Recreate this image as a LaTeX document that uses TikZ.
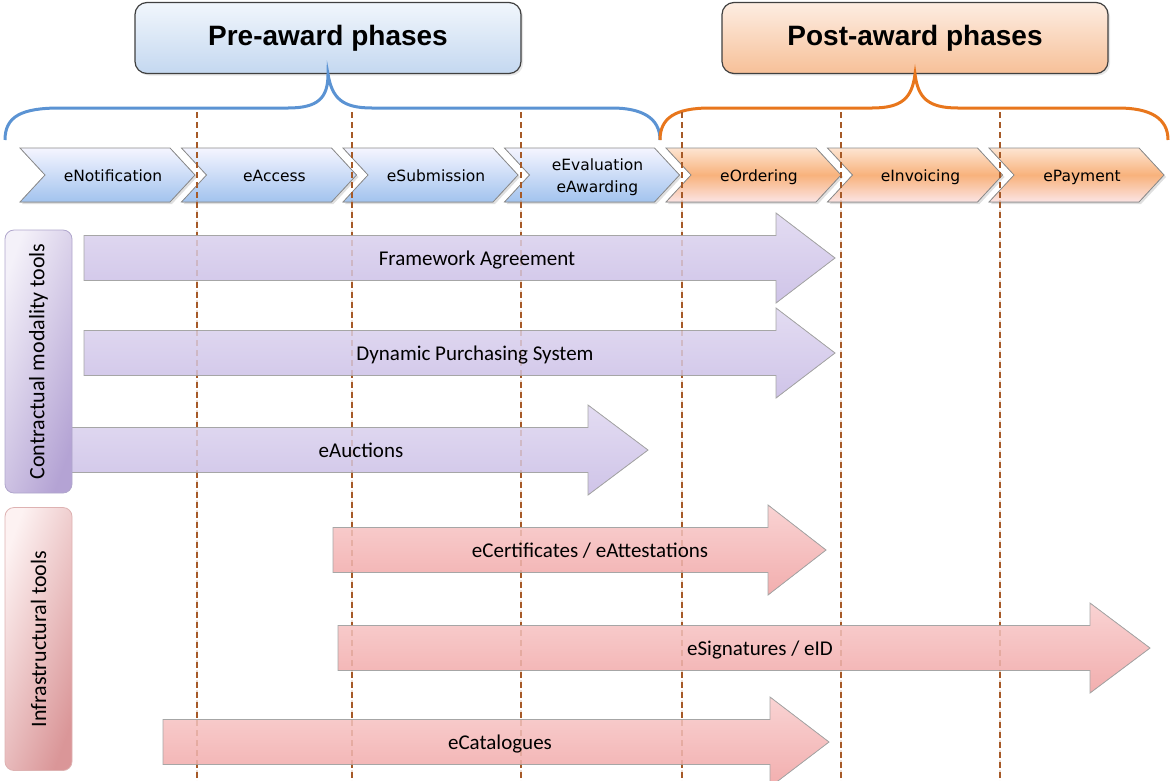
\documentclass[tikz,border=0pt]{standalone}
\usepackage{fontspec}
\setsansfont{Carlito}
\newfontfamily\titlefont{Liberation Sans}
\newfontfamily\phasefont{DejaVu Sans}
\usepackage{tikz}
\usetikzlibrary{shadows}
\definecolor{preBlue}{HTML}{5B93D3}
\definecolor{postOrange}{HTML}{E8761C}
\definecolor{phaseBrown}{HTML}{A65A28}
\definecolor{edgeGray}{HTML}{8C8C8C}
\definecolor{modTop}{HTML}{E3DCF2}
\definecolor{modBot}{HTML}{CFC4E8}
\definecolor{infTop}{HTML}{F9D3D3}
\definecolor{infBot}{HTML}{F2AEAE}
\tikzset{
	titlebox/.style={draw=black!75, line width=1.2pt, rounded corners=12pt, minimum width=386pt, minimum height=71pt,
		font=\titlefont\bfseries\fontsize{28}{32}\selectfont, drop shadow={opacity=0.2, shadow xshift=2pt, shadow yshift=-2pt}},
	prechev/.style={draw=edgeGray, line width=0.8pt, top color=blue!4!white, bottom color={rgb,255:red,162;green,195;blue,238},
		drop shadow={opacity=0.25, shadow xshift=2pt, shadow yshift=-2pt}},
	postchev/.style={draw=edgeGray, line width=0.8pt, top color={rgb,255:red,253;green,229;blue,210},
		bottom color={rgb,255:red,251;green,228;blue,228}, middle color={rgb,255:red,248;green,178;blue,124},
		drop shadow={opacity=0.25, shadow xshift=2pt, shadow yshift=-2pt}},
	phasetext/.style={font=\phasefont\fontsize{15.5}{22}\selectfont, align=center, text height=12pt, text depth=3pt},
	modarrow/.style={draw=black!35, line width=0.8pt, top color=modTop, bottom color=modBot},
	infarrow/.style={draw=black!35, line width=0.8pt, top color=infTop, bottom color=infBot},
	arrowtext/.style={font=\sffamily\fontsize{21}{24}\selectfont, text height=15pt, text depth=4pt},
	sidebox/.style={rotate=90, rounded corners=9pt, line width=0.8pt, minimum width=263pt, minimum height=67pt,
		font=\sffamily\fontsize{22}{26}\selectfont},
	phaseline/.style={phaseBrown, line width=1.5pt, dash pattern=on 6pt off 4pt},
}

\begin{document}
\begin{tikzpicture}[x=1pt, y=-1pt, every node/.style={inner sep=0pt}]
	\useasboundingbox (0,0) rectangle (1172,780);

	% phase headers
	\node[titlebox, top color={rgb,255:red,241;green,246;blue,252}, bottom color={rgb,255:red,196;green,216;blue,240}] (pre) at (328,38) {Pre-award phases};
	\node[titlebox, top color={rgb,255:red,253;green,237;blue,226}, bottom color={rgb,255:red,247;green,192;blue,152}] (post) at (915,38) {Post-award phases};

	\coordinate (preL) at (5,140);
	\coordinate (mid) at (660,140);
	\coordinate (postR) at (1168,140);
	\draw[preBlue, line width=3pt] (preL) .. controls (5,116) and (22,108) .. (60,108) -- (288,108)
		.. controls (318,108) and (328,98) .. (pre.south) .. controls (332,98) and (342,108) .. (372,108) -- (612,108)
		.. controls (642,108) and (660,118) .. (mid);
	\draw[postOrange, line width=3pt] (mid) .. controls (660,118) and (675,108) .. (710,108) -- (872,108)
		.. controls (902,108) and (912,98) .. (post.south) .. controls (918,98) and (928,108) .. (958,108) -- (1118,108)
		.. controls (1150,108) and (1168,118) .. (postR);

	% phase chevrons
	\foreach \lbl [count=\i from 0] in {eNotification, eAccess, eSubmission, {eEvaluation\\eAwarding}, eOrdering, eInvoicing, ePayment} {
		\pgfmathsetmacro\L{20+161.5*\i}
		\pgfmathsetmacro\dy{\i==3 ? 13 : 2}
		\ifnum\i<4 \def\chev{prechev}\else\def\chev{postchev}\fi
		\filldraw[\chev] (\L,148) -- ++(150,0) -- ++(25,27) -- ++(-25,27) -- ++(-150,0) -- ++(25,-27) -- cycle;
		\node[phasetext] (ph\i) at (\L+93,175+\dy) {\lbl};
	}

	\foreach \x in {197,352,521,682,841,1000}
		\draw[phaseline] (\x,112) -- (\x,780);

	% tools
	\foreach \xa/\xb/\xc/\yc/\xt/\lbl/\sty/\nm in {84/776/835/258/477/{Framework Agreement}/modarrow/fa,
		84/776/835/353/475/{Dynamic Purchasing System}/modarrow/dps,
		60/588/648/450/361/{eAuctions}/modarrow/eauc,
		333/768/826/550/590/{eCertificates / eAttestations}/infarrow/ecert,
		338/1090/1150/648/760/{eSignatures / eID}/infarrow/esig,
		163/770/829/742/500/{eCatalogues}/infarrow/ecat} {
		\filldraw[\sty] (\xa,\yc-22.5) -- (\xb,\yc-22.5) -- (\xb,\yc-45) -- (\xc,\yc) -- (\xb,\yc+45) -- (\xb,\yc+22.5) -- (\xa,\yc+22.5) -- cycle;
		\node[arrowtext] (\nm) at (\xt,\yc+2) {\lbl};
	}
	% phase lines seen through the tools
	\foreach \x in {197,352,521,682,841,1000}
		\draw[phaseline, opacity=0.2] (\x,200) -- (\x,780);

	\node[sidebox, draw={rgb,255:red,176;green,166;blue,204}, top color={rgb,255:red,244;green,241;blue,249}, bottom color={rgb,255:red,180;green,163;blue,212}, shading angle=70] (cmt) at (38.5,361.5) {Contractual modality tools};
	\node[sidebox, draw={rgb,255:red,222;green,178;blue,178}, top color={rgb,255:red,253;green,242;blue,242}, bottom color={rgb,255:red,218;green,150;blue,152}, shading angle=70] (infra) at (38.5,639) {Infrastructural tools};

\end{tikzpicture}
\end{document}
